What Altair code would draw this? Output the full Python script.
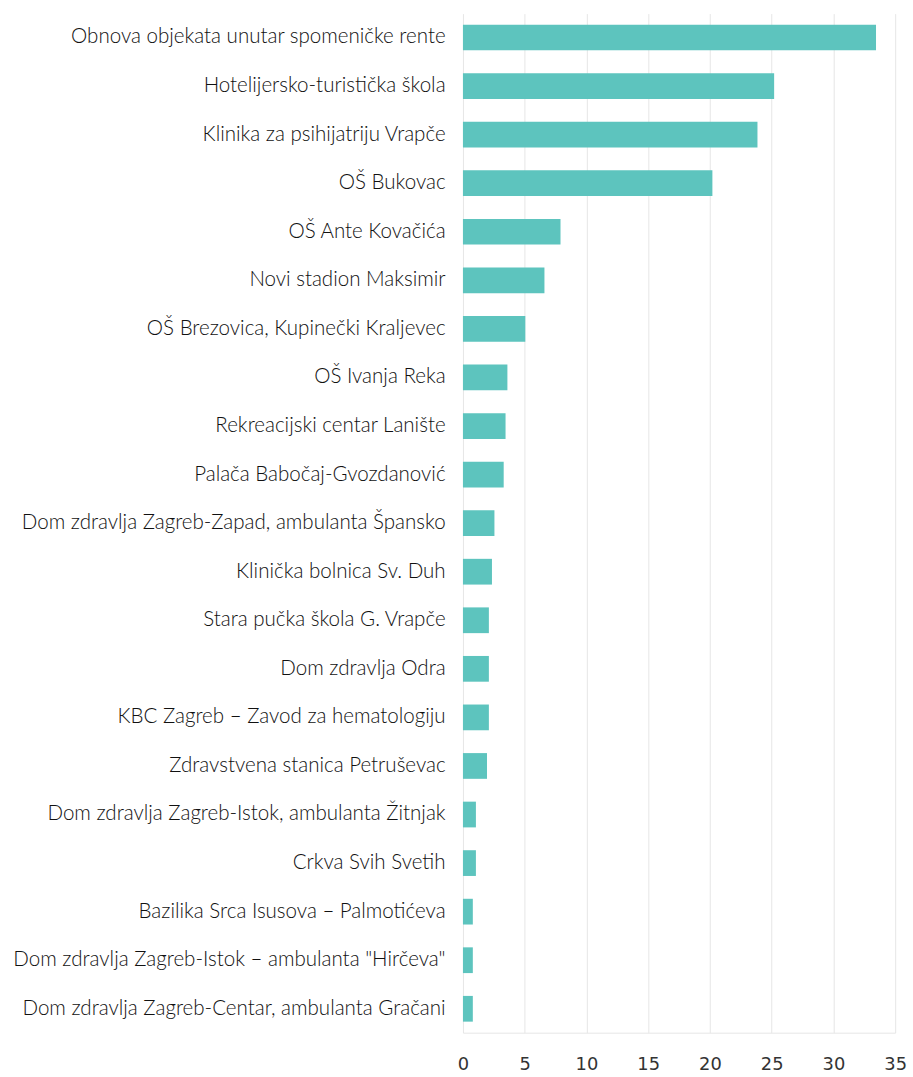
import altair as alt
import pandas as pd

categories = [
    "Obnova objekata unutar spomeničke rente",
    "Hotelijersko-turistička škola",
    "Klinika za psihijatriju Vrapče",
    "OŠ Bukovac",
    "OŠ Ante Kovačića",
    "Novi stadion Maksimir",
    "OŠ Brezovica, Kupinečki Kraljevec",
    "OŠ Ivanja Reka",
    "Rekreacijski centar Lanište",
    "Palača Babočaj-Gvozdanović",
    "Dom zdravlja Zagreb-Zapad, ambulanta Špansko",
    "Klinička bolnica Sv. Duh",
    "Stara pučka škola G. Vrapče",
    "Dom zdravlja Odra",
    "KBC Zagreb – Zavod za hematologiju",
    "Zdravstvena stanica Petruševac",
    "Dom zdravlja Zagreb-Istok, ambulanta Žitnjak",
    "Crkva Svih Svetih",
    "Bazilika Srca Isusova – Palmotićeva",
    "Dom zdravlja Zagreb-Istok – ambulanta \"Hirčeva\"",
    "Dom zdravlja Zagreb-Centar, ambulanta Gračani",
]
values = [33.45, 25.2, 23.85, 20.2, 7.9, 6.6, 5.05, 3.6, 3.45, 3.3,
          2.55, 2.35, 2.1, 2.1, 2.1, 1.95, 1.05, 1.05, 0.8, 0.8, 0.8]

df = pd.DataFrame({"name": categories, "value": values})

chart = alt.Chart(df).mark_bar(color="#5dc4be").encode(
    y=alt.Y("name:N", sort=categories, title=None,
            scale=alt.Scale(paddingInner=0.47, paddingOuter=0.227),
            axis=alt.Axis(ticks=False, domain=False, labelFont="Lato",
                          labelFontWeight=300, labelFontSize=20.7,
                          labelColor="#111111", labelPadding=18,
                          labelLimit=600, minExtent=467, maxExtent=467)),
    x=alt.X("value:Q", title=None,
            scale=alt.Scale(domain=[0, 35], nice=False),
            axis=alt.Axis(values=[0, 5, 10, 15, 20, 25, 30, 35], ticks=False,
                          domain=True, domainColor="#e6e6e6",
                          grid=True, gridColor="#e6e6e6",
                          labelFont="DejaVu Sans", labelFontSize=18,
                          labelColor="#333333", labelPadding=23,
                          labelFlush=False)),
).properties(
    width=436, height=1028,
    padding={"left": 0, "top": 9, "right": 6, "bottom": 0},
).configure_view(stroke=None)

chart.save("out.html", embed_options={"renderer": "svg", "actions": False})
